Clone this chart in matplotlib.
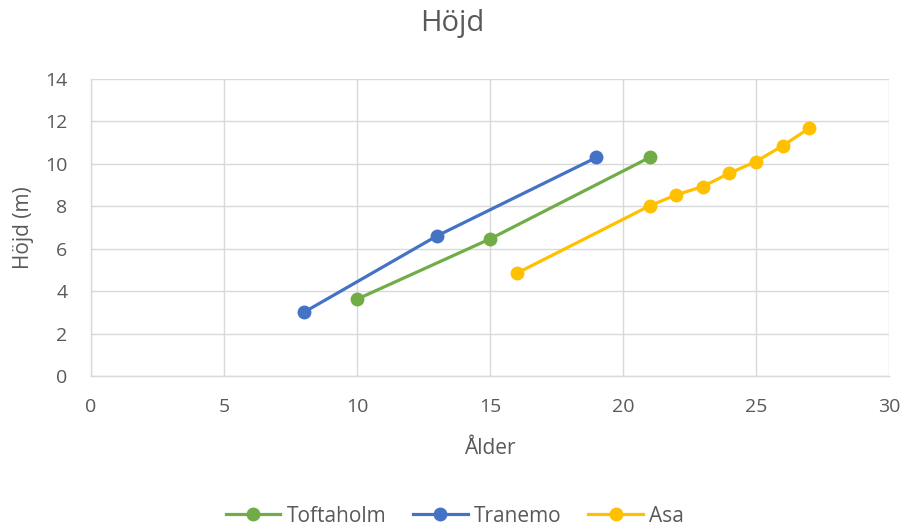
import matplotlib
matplotlib.use("Agg")
import matplotlib.pyplot as plt

# Series data: age (years) vs height (m)
toftaholm_age = [10, 15, 21]
toftaholm_height = [3.62, 6.46, 10.30]

tranemo_age = [8, 13, 19]
tranemo_height = [3.0, 6.6, 10.30]

asa_age = [16, 21, 22, 23, 24, 25, 26, 27]
asa_height = [4.84, 8.02, 8.54, 8.93, 9.56, 10.11, 10.85, 11.68]

x_ticks = [0, 5, 10, 15, 20, 25, 30]
y_ticks = [0, 2, 4, 6, 8, 10, 12, 14]

text_color = "#595959"
grid_color = "#d9d9d9"

plt.rcParams["font.family"] = ["Open Sans", "DejaVu Sans"]

W, H = 904, 529
fig = plt.figure(figsize=(W / 100, H / 100), dpi=100)
ax = fig.add_axes([91 / W, 1 - 376 / H, (889 - 91) / W, (376 - 79) / H])

series = [
    ("Toftaholm", toftaholm_age, toftaholm_height, "#70ad47"),
    ("Tranemo", tranemo_age, tranemo_height, "#4472c4"),
    ("Asa", asa_age, asa_height, "#ffc000"),
]
for name, xs, ys, color in series:
    ax.plot(xs, ys, color=color, lw=2.3, marker="o", markersize=10,
            markeredgewidth=0, label=name, zorder=3)

ax.set_xlim(0, 30)
ax.set_ylim(0, 14)
ax.set_xticks(x_ticks)
ax.set_yticks(y_ticks)
ax.grid(True, color=grid_color, lw=1)
ax.set_axisbelow(True)
for side in ["top", "right"]:
    ax.spines[side].set_visible(False)
for side in ["left", "bottom"]:
    ax.spines[side].set_color(grid_color)
    ax.spines[side].set_linewidth(1)
ax.tick_params(axis="x", length=0, labelsize=14, colors=text_color, pad=16)
ax.tick_params(axis="y", length=0, labelsize=14, colors=text_color, pad=17)

fig.text(0.5, 1 - 24 / H, "Höjd", fontsize=21, color=text_color,
         ha="center", va="center")
ax.set_xlabel("Ålder", fontsize=15, color=text_color, va="center")
ax.xaxis.set_label_coords(0.5, (376 - 449) / 297)
ax.set_ylabel("Höjd (m)", fontsize=15, color=text_color, va="center")
ax.yaxis.set_label_coords((23 - 91) / 798, 0.5)

leg = fig.legend(loc="center", bbox_to_anchor=(455 / W, 1 - 516 / H), ncol=3,
                 frameon=False, fontsize=15, handlelength=2.6,
                 columnspacing=1.3, handletextpad=0.3)
for t in leg.get_texts():
    t.set_color(text_color)

fig.savefig("out.png", dpi=100)
